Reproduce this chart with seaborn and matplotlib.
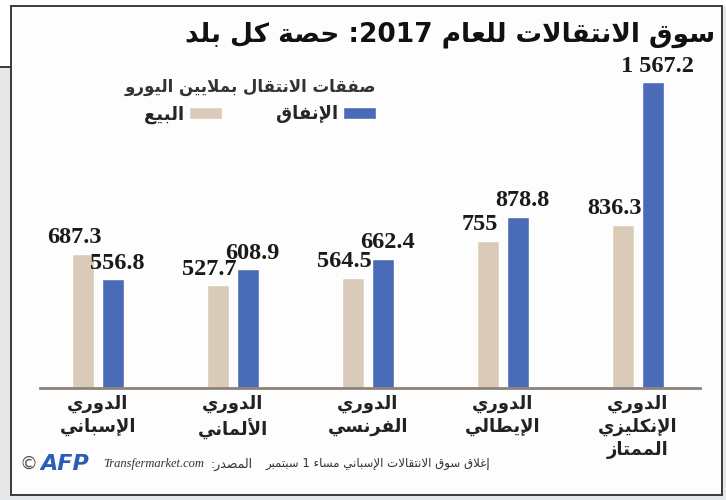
import re
import pandas as pd
import seaborn as sns
import matplotlib.pyplot as plt
from matplotlib.patches import Rectangle
from matplotlib.lines import Line2D

# chart data
leagues = [["الدوري", "الإسباني"], ["الدوري", "الألماني"], ["الدوري", "الفرنسي"],
           ["الدوري", "الإيطالي"], ["الدوري", "الإنكليزي", "الممتاز"]]
sales = [687.3, 527.7, 564.5, 755.0, 836.3]
spending = [556.8, 608.9, 662.4, 878.8, 1567.2]
series_names = ["البيع", "الإنفاق"]
title = "سوق الانتقالات للعام 2017: حصة كل بلد"
legend_title = "صفقات الانتقال بملايين اليورو"
note = "إغلاق سوق الانتقالات الإسباني مساء 1 سبتمبر"
source_label = "المصدر:"
source_site = "Transfermarket.com"

# matplotlib has no arabic shaping, so map letters to presentation forms
# (base code point of the isolated form, number of forms)
LETTERS = {
    0x0621: (0xFE80, 1), 0x0622: (0xFE81, 2), 0x0623: (0xFE83, 2), 0x0624: (0xFE85, 2),
    0x0625: (0xFE87, 2), 0x0626: (0xFE89, 4), 0x0627: (0xFE8D, 2), 0x0628: (0xFE8F, 4),
    0x0629: (0xFE93, 2), 0x062A: (0xFE95, 4), 0x062B: (0xFE99, 4), 0x062C: (0xFE9D, 4),
    0x062D: (0xFEA1, 4), 0x062E: (0xFEA5, 4), 0x062F: (0xFEA9, 2), 0x0630: (0xFEAB, 2),
    0x0631: (0xFEAD, 2), 0x0632: (0xFEAF, 2), 0x0633: (0xFEB1, 4), 0x0634: (0xFEB5, 4),
    0x0635: (0xFEB9, 4), 0x0636: (0xFEBD, 4), 0x0637: (0xFEC1, 4), 0x0638: (0xFEC5, 4),
    0x0639: (0xFEC9, 4), 0x063A: (0xFECD, 4), 0x0641: (0xFED1, 4), 0x0642: (0xFED5, 4),
    0x0643: (0xFED9, 4), 0x0644: (0xFEDD, 4), 0x0645: (0xFEE1, 4), 0x0646: (0xFEE5, 4),
    0x0647: (0xFEE9, 4), 0x0648: (0xFEED, 2), 0x0649: (0xFEEF, 2), 0x064A: (0xFEF1, 4),
}
LAM_ALEF = {0x0622: 0xFEF5, 0x0623: 0xFEF7, 0x0625: 0xFEF9, 0x0627: 0xFEFB}


def shape(text):
    units = []
    i = 0
    while i < len(text):
        c = ord(text[i])
        if c == 0x0644 and i + 1 < len(text) and ord(text[i + 1]) in LAM_ALEF:
            units.append(("LA", LAM_ALEF[ord(text[i + 1])]))
            i += 2
        else:
            units.append(("C", c))
            i += 1

    def can_join_prev(u):
        return u[0] == "LA" or (u[1] in LETTERS and LETTERS[u[1]][1] > 1)

    def can_join_next(u):
        return u[0] == "C" and u[1] in LETTERS and LETTERS[u[1]][1] == 4

    out = []
    for k, u in enumerate(units):
        prev = units[k - 1] if k > 0 else None
        nxt = units[k + 1] if k + 1 < len(units) else None
        jp = prev is not None and can_join_next(prev) and can_join_prev(u)
        jn = nxt is not None and can_join_next(u) and can_join_prev(nxt)
        if u[0] == "LA":
            out.append(chr(u[1] + (1 if jp else 0)))
        elif u[1] in LETTERS:
            base, n = LETTERS[u[1]]
            if n == 1:
                out.append(chr(base))
            elif n == 2:
                out.append(chr(base + (1 if jp else 0)))
            else:
                out.append(chr(base + {(False, False): 0, (True, False): 1,
                                       (False, True): 2, (True, True): 3}[(jp, jn)]))
        else:
            out.append(chr(u[1]))
    return "".join(out)


def ar(text):
    # simple right-to-left reordering, latin/digit runs stay left-to-right
    runs = re.findall(r"[0-9A-Za-z.]+|[^0-9A-Za-z.]+", text)
    vis = []
    for r in runs:
        if re.fullmatch(r"[0-9A-Za-z.]+", r):
            vis.append(r)
        else:
            vis.append(shape(r)[::-1])
    return "".join(vis[::-1])


def fmt(v):
    s = f"{v:,.1f}"
    if s.endswith(".0"):
        s = s[:-2]
    return s.replace(",", " ")


labels = ["\n".join(ar(line) for line in lg) for lg in leagues]
names = [ar(n) for n in series_names]
df = pd.DataFrame({
    "league": labels * 2,
    "series": [names[0]] * len(labels) + [names[1]] * len(labels),
    "value": sales + spending,
})

sns.set_style("white")
plt.rcParams["font.family"] = ["DejaVu Sans"]

W, H = 726, 500
fig = plt.figure(figsize=(W / 100, H / 100), dpi=100)
fig.patch.set_facecolor("white")


def px_rect(x0, y0, x1, y1, **kw):
    fig.add_artist(Rectangle((x0 / W, 1 - y1 / H), (x1 - x0) / W, (y1 - y0) / H,
                             transform=fig.transFigure, zorder=-5, **kw))


gray = "#e6e7e9"
px_rect(0, 67, 12, 500, facecolor=gray, edgecolor="none")
px_rect(0, 495, 726, 500, facecolor=gray, edgecolor="none")
px_rect(722, 6, 726, 500, facecolor=gray, edgecolor="none")
px_rect(11, 6, 722, 495, facecolor="#fdfdfd", edgecolor="#3a3a3a", lw=1.4)
fig.add_artist(Line2D([0, 11 / W], [1 - 67 / H, 1 - 67 / H], color="#3a3a3a", lw=1.4,
                      transform=fig.transFigure, zorder=-4))

beige = "#d9cbb8"
blue = "#4a6bb7"

ax = fig.add_axes([40 / W, 1 - 388 / H, 660 / W, (388 - 60) / H])
ax.set_facecolor("none")
sns.barplot(data=df, x="league", y="value", hue="series", order=labels, hue_order=names,
            palette=[beige, blue], saturation=1, width=0.445, gap=0.27, errorbar=None, ax=ax)
ax.set_xlim(-0.43, 4.46)
ax.set_ylim(0, 1682)

# value labels
for cont, dx in zip(ax.containers, [-6, 3]):
    for bar in cont:
        x = bar.get_x() + bar.get_width() / 2
        y = bar.get_height()
        ax.annotate(fmt(y), (x, y), xytext=(dx, 4), textcoords="offset points",
                    ha="center", va="bottom", fontfamily="Liberation Serif",
                    fontweight="bold", fontsize=17.5, color="#1a1a1a")

for s in ["top", "right", "left"]:
    ax.spines[s].set_visible(False)
ax.spines["bottom"].set_color("#8c8279")
ax.spines["bottom"].set_linewidth(2)
ax.set_yticks([])
ax.set_xlabel("")
ax.set_ylabel("")
ax.tick_params(axis="x", length=0, pad=5)
ax.set_xticks(range(len(labels)))
ax.set_xticklabels(labels, fontweight="bold", fontsize=13, color="#222222", linespacing=1.35)

sns.move_legend(ax, "upper right", bbox_to_anchor=(392 / W, 1 - 62 / H),
                bbox_transform=fig.transFigure, ncol=2, markerfirst=False,
                title=ar(legend_title), frameon=False, prop={"weight": "bold", "size": 13},
                title_fontsize=12, handlelength=1.8, handleheight=0.65,
                columnspacing=3.0, handletextpad=0.3, alignment="right")
leg_title = ax.get_legend().get_title()
leg_title.set_color("#333333")
leg_title.set_fontweight("bold")

fig.text(715 / W, 1 - 42 / H, ar(title), ha="right", va="baseline",
         fontsize=19, fontweight="bold", color="#111111")

fy = 1 - 464 / H
fig.text(19 / W, fy, "\u00a9", fontsize=13, color="#555555", va="center")
fig.text(40 / W, fy, "AFP", fontsize=16, color="#2a5cb8", fontweight="bold",
         fontstyle="italic", va="center")
fig.text(204 / W, fy, source_site, ha="right", va="center", fontsize=9,
         fontfamily="Liberation Serif", fontstyle="italic", color="#333333")
fig.text(211 / W, fy, ar(source_label), ha="left", va="center", fontsize=9, color="#333333")
fig.text(490 / W, fy, ar(note), ha="right", va="center", fontsize=8.5, color="#333333")

fig.savefig("out.png", dpi=100)
